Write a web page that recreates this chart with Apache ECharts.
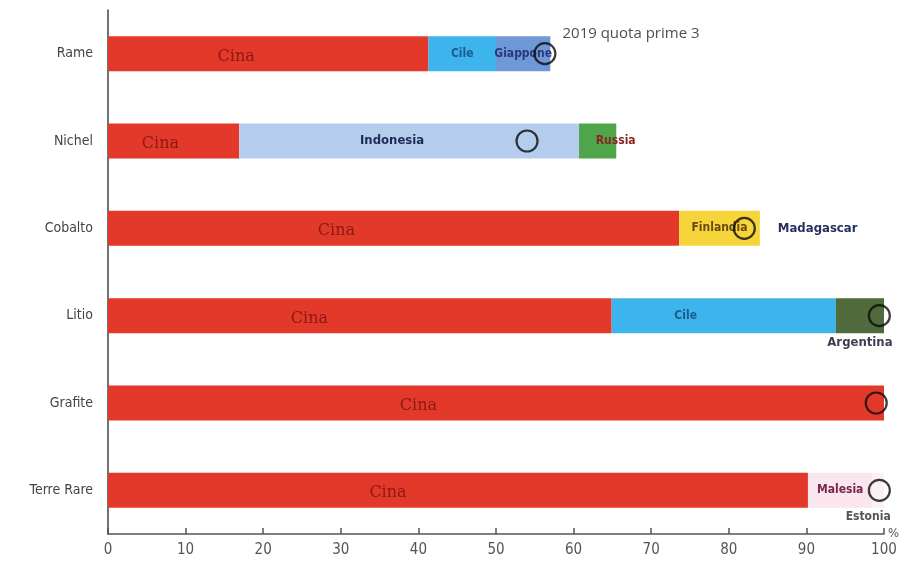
<!DOCTYPE html>
<html>
<head>
<meta charset="utf-8">
<script src="https://cdn.jsdelivr.net/npm/echarts@6/dist/echarts.min.js"></script>
<style>
html,body{margin:0;padding:0;background:#fff;}
#c{width:907px;height:569px;}
</style>
</head>
<body>
<div id="c"></div>
<script>
// ---- data ----
var categories = ['Rame', 'Nichel', 'Cobalto', 'Litio', 'Grafite', 'Terre Rare'];
var firstNames = ['Cina', 'Cina', 'Cina', 'Cina', 'Cina', 'Cina'];
var firstValues = [41.3, 16.9, 73.6, 64.9, 100, 90.2];
var secondNames = ['Cile', 'Indonesia', 'Finlandia', 'Cile', '', 'Malesia'];
var secondValues = [8.7, 43.8, 10.4, 28.9, 0, 8.3];
var thirdNames = ['Giappone', 'Russia', 'Madagascar', 'Argentina', '', 'Estonia'];
var thirdValues = [7.0, 4.8, 0, 6.2, 0, 1.5];
var quotaTop3 = [56.3, 54, 82, 99.4, 99, 99.4];
var quotaLabel = '2019 quota prime 3';
var xTicks = [0, 10, 20, 30, 40, 50, 60, 70, 80, 90, 100];

// ---- styles ----
var FONT = "'Liberation Sans Narrow','DejaVu Sans Condensed','Open Sans',sans-serif";
var countryStyle = {
  'Cina':       {color: '#e2392b', text: '#8a1a14', size: 16, pos: ['40%', '58%'], align: 'center', font: "'DejaVu Serif','Liberation Serif',serif"},
  'Cile':       {color: '#3db4ec', text: '#1d5a92', size: 12, pos: 'inside'},
  'Giappone':   {color: '#6f98d6', text: '#2a3a78', size: 12, pos: 'inside'},
  'Indonesia':  {color: '#b5cdec', text: '#1c2a58', size: 13, pos: ['45%', '50%'], align: 'center'},
  'Russia':     {color: '#4fa64a', text: '#8a2424', size: 12, pos: ['45%', '50%'], align: 'left'},
  'Finlandia':  {color: '#f6d53a', text: '#6a4a12', size: 12, pos: 'inside'},
  'Madagascar': {color: 'rgba(0,0,0,0)', text: '#283060', size: 13, pos: 'right', distance: 18},
  'Argentina':  {color: '#4f6a3b', text: '#3e3e52', size: 13, pos: 'bottom', distance: 3},
  'Malesia':    {color: '#f9e6ee', text: '#7a2648', size: 12, pos: 'inside'},
  'Estonia':    {color: '#fbf0f4', text: '#555555', size: 12, pos: 'bottom', distance: 3, offset: [-10, 0]}
};
var litioCilePos = ['33%', '50%'];

function buildData(names, values) {
  return values.map(function (v, i) {
    var n = names[i];
    if (!n) return {value: v, itemStyle: {color: 'rgba(0,0,0,0)'}, label: {show: false}};
    var s = countryStyle[n];
    var pos = s.pos;
    if (n === 'Cile' && categories[i] === 'Litio') pos = litioCilePos;
    var lab = {
      show: true, formatter: n, position: pos, color: s.text, fontSize: s.size,
      fontFamily: s.font || FONT, fontWeight: s.font ? 'normal' : 'bold'
    };
    if (Array.isArray(pos)) { lab.align = s.align || 'center'; lab.verticalAlign = 'middle'; }
    if (s.distance !== undefined) lab.distance = s.distance;
    if (s.offset) lab.offset = s.offset;
    return {value: v, name: n, itemStyle: {color: s.color}, label: lab};
  });
}

var chart = echarts.init(document.getElementById('c'), null, {renderer: 'canvas'});

var quotaData = quotaTop3.map(function (v, i) {
  var d = {value: [v, categories[i]]};
  if (i === 0) {
    d.label = {show: true, formatter: quotaLabel, position: 'right', distance: 6, offset: [0, -20],
      color: '#222', fontSize: 15, fontFamily: "'Open Sans','DejaVu Sans',sans-serif"};
  }
  return d;
});

chart.setOption({
  animation: false,
  backgroundColor: '#ffffff',
  grid: {left: 108, right: 23, top: 10, bottom: 35},
  xAxis: {
    type: 'value', min: 0, max: 100, interval: 10,
    name: '%', nameLocation: 'end', nameGap: 4,
    nameTextStyle: {color: '#555', fontSize: 13, fontFamily: FONT, padding: [0, 0, 14, 0]},
    axisLine: {show: true, lineStyle: {color: '#555', width: 1.5}},
    axisTick: {show: true, inside: true, length: 6, lineStyle: {color: '#555', width: 1.5}},
    axisLabel: {color: '#555', fontSize: 15, fontFamily: FONT, margin: 9,
      formatter: function (v) { return xTicks.indexOf(v) >= 0 ? String(v) : ''; }},
    splitLine: {show: false}
  },
  yAxis: {
    type: 'category', data: categories, inverse: true,
    axisLine: {show: true, lineStyle: {color: '#444', width: 1.5}},
    axisTick: {show: false},
    axisLabel: {color: '#444', fontSize: 14, fontFamily: FONT, margin: 15}
  },
  series: [
    {type: 'bar', stack: 'tot', barWidth: 35, data: buildData(firstNames, firstValues)},
    {type: 'bar', stack: 'tot', barWidth: 35, data: buildData(secondNames, secondValues)},
    {type: 'bar', stack: 'tot', barWidth: 35, data: buildData(thirdNames, thirdValues)},
    {
      type: 'scatter', symbol: 'circle', symbolSize: 21, z: 10,
      itemStyle: {color: 'rgba(0,0,0,0)', borderColor: '#0a0a0a', borderWidth: 2.2},
      data: quotaData
    }
  ]
});
</script>
</body>
</html>
